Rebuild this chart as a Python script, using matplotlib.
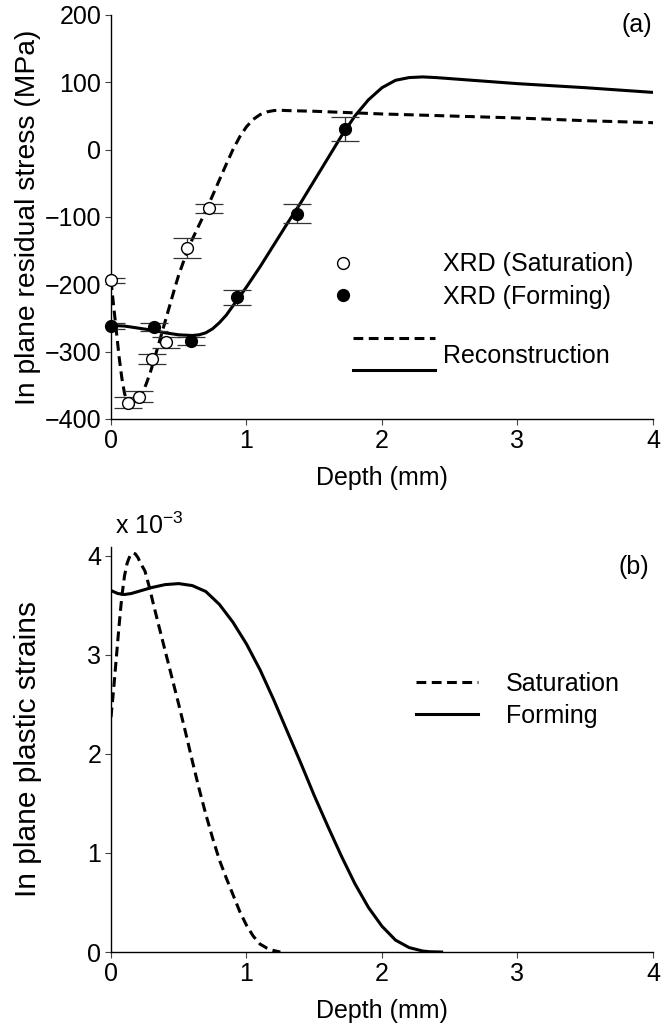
import numpy as np
import matplotlib
matplotlib.use('Agg')
import matplotlib.pyplot as plt

plt.rcParams['font.family'] = ['Liberation Sans', 'DejaVu Sans']
plt.rcParams['font.size'] = 18

# (a) XRD measurements
xrd_sat_x = [0.0, 0.128, 0.209, 0.305, 0.406, 0.563, 0.725]
xrd_sat_y = [-194, -376, -367, -311, -286, -146, -87]
xrd_sat_err = [4, 8, 8, 8, 8, 15, 7]

xrd_form_x = [0.0, 0.32, 0.59, 0.93, 1.37, 1.73]
xrd_form_y = [-262, -264, -284, -219, -95, 31]
xrd_form_err = [5, 6, 6, 11, 14, 18]

# (a) reconstructions
rec_sat_x = [0, 0.02, 0.04, 0.06, 0.08, 0.10, 0.12, 0.14, 0.16, 0.18, 0.20, 0.23, 0.26,
             0.29, 0.32, 0.35, 0.38, 0.41, 0.44, 0.47, 0.50, 0.55, 0.60, 0.65, 0.70,
             0.75, 0.80, 0.85, 0.90, 0.95, 1.00, 1.05, 1.10, 1.15, 1.20, 1.25, 1.30,
             1.5, 2.0, 2.5, 3.0, 3.5, 4.0]
rec_sat_y = [-194, -233, -270, -308, -339, -362, -375, -380, -380, -376, -371, -362, -348,
             -331, -311, -290, -269, -248, -227, -206, -186, -158, -133, -112, -91,
             -68, -45, -22, 0, 19, 34, 45, 52, 56, 58, 58.5, 58,
             57, 53, 50, 47, 43, 40]

rec_form_x = [0, 0.1, 0.2, 0.3, 0.4, 0.5, 0.6, 0.65, 0.7, 0.75, 0.8, 0.85, 0.9, 0.95,
              1.0, 1.1, 1.2, 1.3, 1.4, 1.5, 1.6, 1.7, 1.8, 1.9, 2.0, 2.1, 2.2, 2.3,
              2.4, 2.6, 3.0, 3.5, 4.0]
rec_form_y = [-261, -262, -265, -268, -272, -275, -276, -275, -272, -266, -257, -246, -232, -218,
              -204, -174, -142, -110, -79, -46, -13, 20, 50, 74, 92, 103, 107, 108,
              107, 104, 98, 92, 85]

# (b) plastic strains (x 1e-3)
ps_sat_x = [0, 0.02, 0.04, 0.06, 0.08, 0.10, 0.12, 0.14, 0.16, 0.18, 0.20, 0.22, 0.25,
            0.28, 0.31, 0.35, 0.40, 0.45, 0.50, 0.55, 0.60, 0.65, 0.70, 0.75, 0.80,
            0.85, 0.90, 0.95, 1.00, 1.05, 1.10, 1.15, 1.20, 1.25]
ps_sat_y = [2.37, 2.66, 2.98, 3.30, 3.59, 3.80, 3.93, 4.00, 4.03, 4.02, 3.98, 3.92, 3.85,
            3.70, 3.53, 3.31, 3.04, 2.77, 2.50, 2.22, 1.93, 1.65, 1.39, 1.15, 0.93,
            0.75, 0.58, 0.41, 0.27, 0.16, 0.08, 0.04, 0.015, 0.0]

ps_form_x = [0, 0.05, 0.1, 0.15, 0.2, 0.3, 0.4, 0.5, 0.6, 0.7, 0.8, 0.9, 1.0, 1.1, 1.2,
             1.3, 1.4, 1.5, 1.6, 1.7, 1.8, 1.9, 2.0, 2.1, 2.2, 2.3, 2.35, 2.44]
ps_form_y = [3.65, 3.62, 3.61, 3.62, 3.64, 3.68, 3.71, 3.72, 3.70, 3.64, 3.51, 3.33, 3.11, 2.85, 2.55,
             2.23, 1.91, 1.58, 1.27, 0.97, 0.69, 0.45, 0.26, 0.12, 0.045, 0.01, 0.003, 0.0]

xticks = [0, 1, 2, 3, 4]

lw = 2.2
dash = (3.2, 1.8)

fig = plt.figure(figsize=(6.61, 10.32), dpi=100)
ax1 = fig.add_axes([0.1679, 0.5940, 0.82, 0.3915])
ax2 = fig.add_axes([0.1679, 0.0775, 0.82, 0.3925])

for ax in (ax1, ax2):
    ax.spines['top'].set_visible(False)
    ax.spines['right'].set_visible(False)
    ax.spines['left'].set_linewidth(1.0)
    ax.spines['bottom'].set_linewidth(1.0)
    ax.tick_params(direction='out', length=4, width=0.8, color='#444444', pad=3)
    ax.set_xlim(0, 4)
    ax.set_xticks(xticks)
    ax.set_xlabel('Depth (mm)')
    ax.xaxis.set_label_coords(0.5, -0.146)
    ax.xaxis.label.set_va('center')

# ---- (a)
ax1.plot(rec_sat_x, rec_sat_y, color='black', lw=lw, linestyle=(0, dash), zorder=2)
ax1.plot(rec_form_x, rec_form_y, color='black', lw=lw, zorder=2)
ax1.errorbar(xrd_sat_x, xrd_sat_y, yerr=xrd_sat_err, fmt='none', ecolor='#333333',
             elinewidth=0.9, capsize=10, capthick=0.9, zorder=3)
ax1.errorbar(xrd_form_x, xrd_form_y, yerr=xrd_form_err, fmt='none', ecolor='#333333',
             elinewidth=0.9, capsize=10, capthick=0.9, zorder=3)
p_sat, = ax1.plot(xrd_sat_x, xrd_sat_y, 'o', ms=8.5, mfc='white', mec='black', mew=1.0,
                  linestyle='none', zorder=4, clip_on=False)
p_form, = ax1.plot(xrd_form_x, xrd_form_y, 'o', ms=8.5, mfc='black', mec='black', mew=1.0,
                   linestyle='none', zorder=4, clip_on=False)
ax1.set_ylim(-400, 200)
ax1.set_yticks([-400, -300, -200, -100, 0, 100, 200])
ax1.set_ylabel('In plane residual stress (MPa)', fontsize=20.3)
ax1.yaxis.set_label_coords(-0.153, 0.5)
ax1.yaxis.label.set_va('center')
ax1.text(0.97, 0.975, '(a)', transform=ax1.transAxes, ha='center', va='center')

leg1 = ax1.legend([p_sat, p_form], ['XRD (Saturation)', 'XRD (Forming)'],
                  loc='center left', bbox_to_anchor=(0.405, 0.343), frameon=False,
                  handlelength=1.0, handletextpad=3.5, borderpad=0, borderaxespad=0,
                  labelspacing=0.33, numpoints=1)
ax1.add_artist(leg1)
h_d = plt.Line2D([], [], color='black', lw=lw, linestyle=(0, dash))
h_s = plt.Line2D([], [], color='black', lw=lw)
ax1.legend([h_d, h_s], [' ', ' '], loc='center left', bbox_to_anchor=(0.446, 0.157),
           frameon=False, handlelength=3.28, handletextpad=0.32, borderpad=0,
           borderaxespad=0, labelspacing=0.33)
ax1.text(0.613, 0.157, 'Reconstruction', transform=ax1.transAxes, ha='left', va='center')

# ---- (b)
l_sat, = ax2.plot(ps_sat_x, ps_sat_y, color='black', lw=lw, linestyle=(0, dash))
l_form, = ax2.plot(ps_form_x, ps_form_y, color='black', lw=lw)
ax2.set_ylim(0, 4.09)
ax2.set_yticks([0, 1, 2, 3, 4])
ax2.set_ylabel('In plane plastic strains', fontsize=21.5)
ax2.yaxis.set_label_coords(-0.153, 0.5)
ax2.yaxis.label.set_va('center')
ax2.text(0.965, 0.95, '(b)', transform=ax2.transAxes, ha='center', va='center')
ax2.text(0.007, 1.052, r'x 10$^{\mathregular{-3}}$', transform=ax2.transAxes,
         ha='left', va='center')
ax2.legend([l_sat, l_form], ['Saturation', 'Forming'], loc='center left',
           bbox_to_anchor=(0.563, 0.623), frameon=False, handlelength=2.48,
           handletextpad=1.12, borderpad=0, borderaxespad=0, labelspacing=0.33)

fig.savefig('out.png', dpi=100)
